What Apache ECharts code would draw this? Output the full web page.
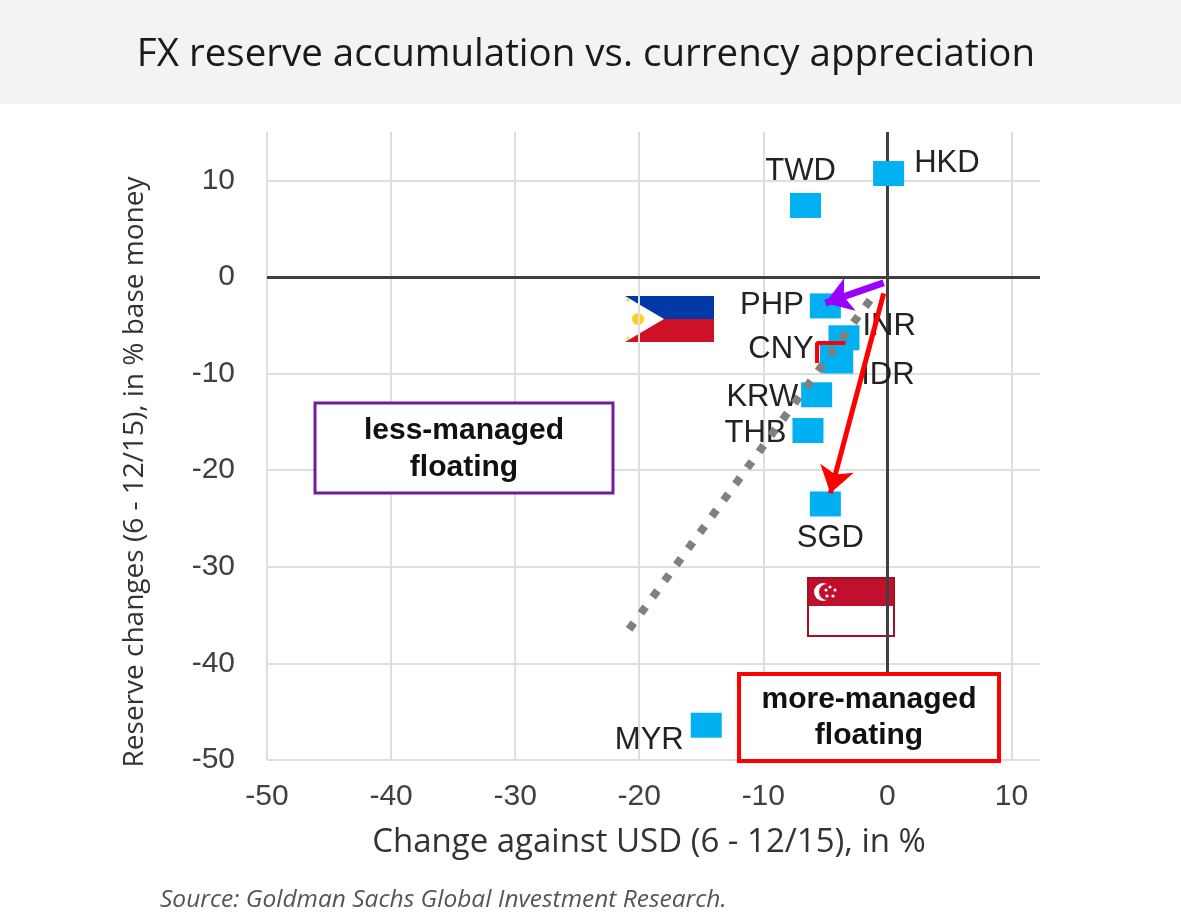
<!DOCTYPE html>
<html>
<head>
<meta charset="utf-8">
<script src="https://cdn.jsdelivr.net/npm/echarts@6.0.0/dist/echarts.min.js"></script>
<style>
html, body { margin: 0; padding: 0; background: #fff; }
#chart { width: 1181px; height: 913px; }
</style>
</head>
<body>
<div id="chart"></div>
<script>
// values
var currencies = ['HKD', 'TWD', 'PHP', 'INR', 'CNY', 'IDR', 'KRW', 'THB', 'SGD', 'MYR'];
var fxChange = [0.1, -6.6, -5.0, -3.5, -4.2, -4.0, -5.7, -6.4, -5.0, -14.6];
var reserveChange = [10.7, 7.4, -3.0, -6.3, -8.3, -8.7, -12.2, -15.9, -23.5, -46.4];
var gridTicks = [-50, -40, -30, -20, -10, 0, 10];
var trendLine = [[-1.4, -2.4], [-21.0, -36.8]];
var cnyMark = [[-5.67, -8.9], [-5.67, -6.84], [-3.39, -6.84]];
var phpArrow = [[-0.3, -0.6], [-5.0, -2.7]];
var sgdArrow = [[-0.3, -1.7], [-4.6, -22.4]];

// where each currency label sits
var labelPlace = {
    HKD: { position: 'right', distance: 10, offset: [0, -10] },
    TWD: { position: 'top', distance: 6, offset: [-5, 0] },
    PHP: { position: 'left', distance: 6, offset: [0, 0] },
    INR: { position: 'right', distance: 3, offset: [0, -11] },
    CNY: { position: 'left', distance: 6, offset: [0, -8] },
    IDR: { position: 'right', distance: 8, offset: [0, 14] },
    KRW: { position: 'left', distance: 3, offset: [0, 3] },
    THB: { position: 'left', distance: 6, offset: [0, 3] },
    SGD: { position: 'bottom', distance: 6, offset: [5, 0] },
    MYR: { position: 'left', distance: 7, offset: [0, 15] }
};

var points = currencies.map(function (c, i) {
    return { name: c, value: [fxChange[i], reserveChange[i]], label: labelPlace[c] };
});

var gridLines = [];
gridTicks.forEach(function (t) {
    if (t !== 0) {
        gridLines.push({ xAxis: t });
        gridLines.push({ yAxis: t });
    }
});

var myChart = echarts.init(document.getElementById('chart'));
var option = {
    backgroundColor: '#ffffff',
    animation: false,
    grid: {
        left: 267,
        right: 141,
        top: 132,
        bottom: 153
    },
    xAxis: {
        type: 'value',
        min: -50,
        max: 12.3,
        interval: 10,
        axisLine: { show: false },
        axisTick: { show: false },
        splitLine: { show: false },
        axisLabel: {
            margin: 22,
            color: '#404040',
            fontSize: 30,
            fontFamily: 'Liberation Sans',
            formatter: function (v) { return v % 10 === 0 ? v : ''; }
        }
    },
    yAxis: {
        type: 'value',
        min: -50,
        max: 15,
        interval: 10,
        axisLine: { show: false },
        axisTick: { show: false },
        splitLine: { show: false },
        axisLabel: {
            margin: 32,
            color: '#404040',
            fontSize: 30,
            fontFamily: 'Liberation Sans',
            formatter: function (v) { return v % 10 === 0 ? v : ''; }
        }
    },
    graphic: [
        {
            type: 'rect', z: -10, silent: true,
            shape: { x: 0, y: 0, width: 1181, height: 104 },
            style: { fill: '#f3f3f3' }
        },
        {
            type: 'text', x: 586, y: 55,
            style: {
                text: 'FX reserve accumulation vs. currency appreciation',
                align: 'center', verticalAlign: 'middle',
                fill: '#1a1a1a', font: '38.5px "Open Sans"'
            }
        },
        {
            type: 'text', x: 135, y: 472, rotation: Math.PI / 2,
            style: {
                text: 'Reserve changes (6 - 12/15), in % base money',
                align: 'center', verticalAlign: 'middle',
                fill: '#333', font: '28px "Open Sans"'
            }
        },
        {
            type: 'text', x: 649, y: 843,
            style: {
                text: 'Change against USD (6 - 12/15), in %',
                align: 'center', verticalAlign: 'middle',
                fill: '#333', font: '33px "Open Sans"'
            }
        },
        {
            type: 'text', x: 160, y: 900,
            style: {
                text: 'Source: Goldman Sachs Global Investment Research.',
                verticalAlign: 'middle',
                fill: '#555', font: 'italic 24.5px "Open Sans"'
            }
        },
        // less-managed box
        {
            type: 'rect', z: 100,
            shape: { x: 315, y: 403, width: 298, height: 90 },
            style: { fill: '#fff', stroke: '#6a1fa0', lineWidth: 3 }
        },
        {
            type: 'text', z: 101, x: 464, y: 449,
            style: {
                text: 'less-managed\nfloating', align: 'center', verticalAlign: 'middle',
                fill: '#111', font: 'bold 30px "Liberation Sans"', lineHeight: 37
            }
        },
        // more-managed box
        {
            type: 'rect', z: 100,
            shape: { x: 739, y: 674, width: 260, height: 87 },
            style: { fill: '#fff', stroke: '#ff0000', lineWidth: 4 }
        },
        {
            type: 'text', z: 101, x: 869, y: 718,
            style: {
                text: 'more-managed\nfloating', align: 'center', verticalAlign: 'middle',
                fill: '#111', font: 'bold 30px "Liberation Sans"', lineHeight: 36
            }
        },
        // Philippine flag
        {
            type: 'group', z: 100,
            children: [
                { type: 'rect', shape: { x: 625, y: 296, width: 89, height: 23 }, style: { fill: '#0038a8' } },
                { type: 'rect', shape: { x: 625, y: 319, width: 89, height: 23 }, style: { fill: '#ce1126' } },
                { type: 'polygon', shape: { points: [[625, 296], [625, 342], [664, 319]] }, style: { fill: '#ffffff' } },
                { type: 'circle', shape: { cx: 638, cy: 319, r: 6 }, style: { fill: '#fcd116' } },
                { type: 'circle', shape: { cx: 628, cy: 300, r: 1.5 }, style: { fill: '#fcd116' } },
                { type: 'circle', shape: { cx: 628, cy: 338, r: 1.5 }, style: { fill: '#fcd116' } }
            ]
        },
        // Singapore flag
        {
            type: 'group', z: 100,
            children: [
                { type: 'rect', shape: { x: 808, y: 578, width: 86, height: 58 }, style: { fill: '#ffffff', stroke: '#a3101f', lineWidth: 2 } },
                { type: 'rect', shape: { x: 809, y: 579, width: 84, height: 27 }, style: { fill: '#c0102e' } },
                { type: 'circle', shape: { cx: 823, cy: 592, r: 9 }, style: { fill: '#ffffff' } },
                { type: 'circle', shape: { cx: 827, cy: 592, r: 8 }, style: { fill: '#c0102e' } },
                { type: 'circle', shape: { cx: 830, cy: 587, r: 1.6 }, style: { fill: '#ffffff' } },
                { type: 'circle', shape: { cx: 835, cy: 590, r: 1.6 }, style: { fill: '#ffffff' } },
                { type: 'circle', shape: { cx: 833, cy: 596, r: 1.6 }, style: { fill: '#ffffff' } },
                { type: 'circle', shape: { cx: 827, cy: 596, r: 1.6 }, style: { fill: '#ffffff' } },
                { type: 'circle', shape: { cx: 826, cy: 590, r: 1.6 }, style: { fill: '#ffffff' } }
            ]
        }
    ],
    series: [
        {
            name: 'gridlines',
            type: 'scatter',
            data: [],
            z: 1,
            markLine: {
                silent: true,
                z: 1,
                symbol: ['none', 'none'],
                label: { show: false },
                lineStyle: { type: 'solid', color: '#dedede', width: 2 },
                data: gridLines
            }
        },
        {
            name: 'zero lines',
            type: 'scatter',
            data: [],
            z: 2,
            markLine: {
                silent: true,
                z: 2,
                symbol: ['none', 'none'],
                label: { show: false },
                lineStyle: { type: 'solid', color: '#404040', width: 3 },
                data: [{ xAxis: 0 }, { yAxis: 0 }]
            }
        },
        {
            name: 'currencies',
            type: 'scatter',
            z: 3,
            symbol: 'rect',
            symbolSize: [31, 25],
            itemStyle: { color: '#00b0f0', opacity: 1 },
            label: {
                show: true,
                formatter: '{b}',
                color: '#222',
                fontSize: 31,
                fontFamily: 'Liberation Sans'
            },
            data: points
        },
        {
            name: 'trend',
            type: 'line',
            z: 4,
            symbol: 'none',
            lineStyle: { color: '#808080', width: 8, type: [8, 12], cap: 'butt' },
            data: trendLine
        },
        {
            name: 'cny mark',
            type: 'line',
            z: 5,
            symbol: 'none',
            lineStyle: { color: '#ff0000', width: 4 },
            data: cnyMark
        },
        {
            name: 'arrows',
            type: 'scatter',
            data: [],
            z: 6,
            markLine: {
                silent: true,
                z: 6,
                symbol: ['none', 'arrow'],
                symbolSize: 26,
                label: { show: false },
                data: [
                    [{ coord: phpArrow[0], lineStyle: { color: '#9b00ff', width: 7, type: 'solid' } }, { coord: phpArrow[1] }],
                    [{ coord: sgdArrow[0], lineStyle: { color: '#ff0000', width: 5, type: 'solid' } }, { coord: sgdArrow[1] }]
                ]
            }
        }
    ]
};
myChart.setOption(option);
</script>
</body>
</html>
